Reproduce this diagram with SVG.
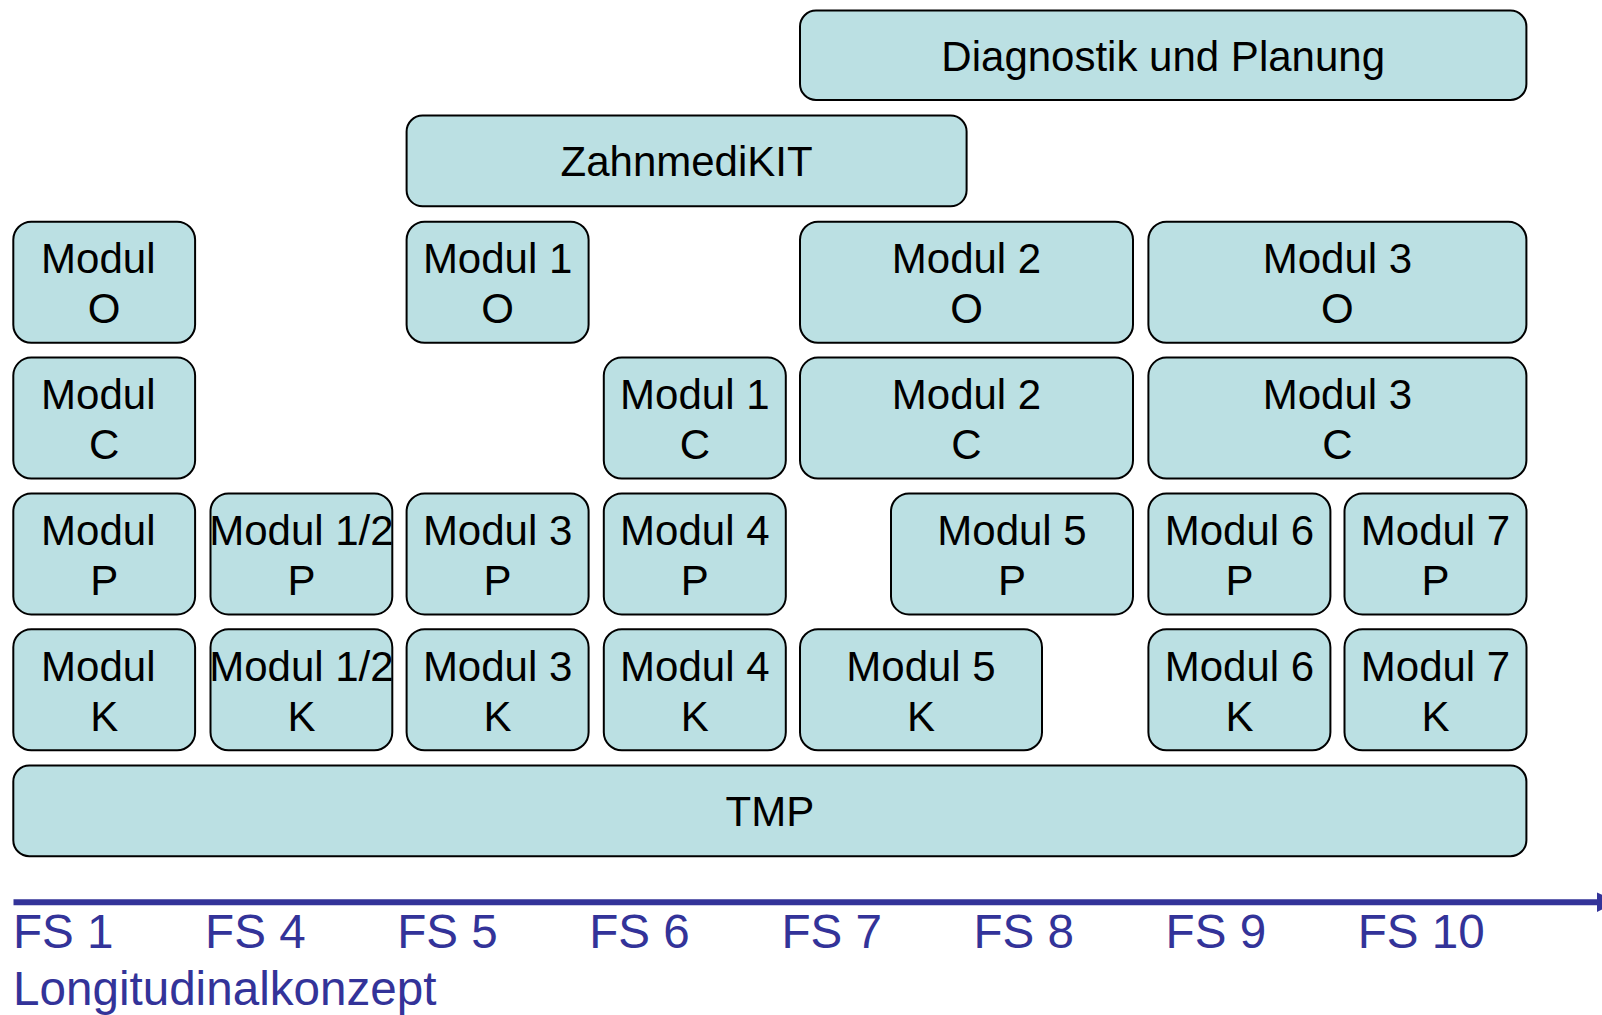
<svg xmlns="http://www.w3.org/2000/svg" width="1602" height="1015" viewBox="0 0 1602 1015">
<style>
.box{fill:#bbe0e3;stroke:#000;stroke-width:2}
.t{font-family:"Liberation Sans",Arial,Helvetica,sans-serif;font-size:42px;fill:#000;text-anchor:middle}
.ax{font-family:"Liberation Sans",Arial,Helvetica,sans-serif;font-size:47.6px;fill:#333399}
</style>
<rect width="1602" height="1015" fill="#fff"/>
<g id="diagnostik"><rect class="box" x="800" y="10.5" width="726.4" height="89.5" rx="16"/><text class="t" x="1163.2" y="70.5">Diagnostik und Planung</text></g>
<g id="zahnmedikit"><rect class="box" x="406.6" y="115.5" width="560" height="90.8" rx="16"/><text class="t" x="686.6" y="176">ZahnmediKIT</text></g>

<g id="modul-o"><rect class="box" x="13.3" y="221.7" width="181.8" height="121" rx="18"/><text class="t" x="98.3" y="273.2">Modul</text><text class="t" x="104.2" y="323.2">O</text></g>
<g id="modul1-o"><rect class="box" x="406.6" y="221.7" width="182" height="121" rx="18"/><text class="t" x="497.6" y="273.2">Modul 1</text><text class="t" x="497.6" y="323.2">O</text></g>
<g id="modul2-o"><rect class="box" x="800" y="221.7" width="333" height="121" rx="18"/><text class="t" x="966.5" y="273.2">Modul 2</text><text class="t" x="966.5" y="323.2">O</text></g>
<g id="modul3-o"><rect class="box" x="1148.4" y="221.7" width="378" height="121" rx="18"/><text class="t" x="1337.4" y="273.2">Modul 3</text><text class="t" x="1337.4" y="323.2">O</text></g>

<g id="modul-c"><rect class="box" x="13.3" y="357.6" width="181.8" height="121" rx="18"/><text class="t" x="98.3" y="409.1">Modul</text><text class="t" x="104.2" y="459.1">C</text></g>
<g id="modul1-c"><rect class="box" x="603.8" y="357.6" width="182" height="121" rx="18"/><text class="t" x="694.8" y="409.1">Modul 1</text><text class="t" x="694.8" y="459.1">C</text></g>
<g id="modul2-c"><rect class="box" x="800" y="357.6" width="333" height="121" rx="18"/><text class="t" x="966.5" y="409.1">Modul 2</text><text class="t" x="966.5" y="459.1">C</text></g>
<g id="modul3-c"><rect class="box" x="1148.4" y="357.6" width="378" height="121" rx="18"/><text class="t" x="1337.4" y="409.1">Modul 3</text><text class="t" x="1337.4" y="459.1">C</text></g>

<g id="modul-p"><rect class="box" x="13.3" y="493.4" width="181.8" height="121" rx="18"/><text class="t" x="98.3" y="544.9">Modul</text><text class="t" x="104.2" y="594.9">P</text></g>
<g id="modul12-p"><rect class="box" x="210.5" y="493.4" width="181.8" height="121" rx="18"/><text class="t" x="301.4" y="544.9">Modul 1/2</text><text class="t" x="301.4" y="594.9">P</text></g>
<g id="modul3-p"><rect class="box" x="406.6" y="493.4" width="182" height="121" rx="18"/><text class="t" x="497.6" y="544.9">Modul 3</text><text class="t" x="497.6" y="594.9">P</text></g>
<g id="modul4-p"><rect class="box" x="603.8" y="493.4" width="182" height="121" rx="18"/><text class="t" x="694.8" y="544.9">Modul 4</text><text class="t" x="694.8" y="594.9">P</text></g>
<g id="modul5-p"><rect class="box" x="891" y="493.4" width="242" height="121" rx="18"/><text class="t" x="1012" y="544.9">Modul 5</text><text class="t" x="1012" y="594.9">P</text></g>
<g id="modul6-p"><rect class="box" x="1148.4" y="493.4" width="182" height="121" rx="18"/><text class="t" x="1239.4" y="544.9">Modul 6</text><text class="t" x="1239.4" y="594.9">P</text></g>
<g id="modul7-p"><rect class="box" x="1344.5" y="493.4" width="182" height="121" rx="18"/><text class="t" x="1435.5" y="544.9">Modul 7</text><text class="t" x="1435.5" y="594.9">P</text></g>

<g id="modul-k"><rect class="box" x="13.3" y="629.3" width="181.8" height="121" rx="18"/><text class="t" x="98.3" y="680.8">Modul</text><text class="t" x="104.2" y="730.8">K</text></g>
<g id="modul12-k"><rect class="box" x="210.5" y="629.3" width="181.8" height="121" rx="18"/><text class="t" x="301.4" y="680.8">Modul 1/2</text><text class="t" x="301.4" y="730.8">K</text></g>
<g id="modul3-k"><rect class="box" x="406.6" y="629.3" width="182" height="121" rx="18"/><text class="t" x="497.6" y="680.8">Modul 3</text><text class="t" x="497.6" y="730.8">K</text></g>
<g id="modul4-k"><rect class="box" x="603.8" y="629.3" width="182" height="121" rx="18"/><text class="t" x="694.8" y="680.8">Modul 4</text><text class="t" x="694.8" y="730.8">K</text></g>
<g id="modul5-k"><rect class="box" x="800" y="629.3" width="242" height="121" rx="18"/><text class="t" x="921" y="680.8">Modul 5</text><text class="t" x="921" y="730.8">K</text></g>
<g id="modul6-k"><rect class="box" x="1148.4" y="629.3" width="182" height="121" rx="18"/><text class="t" x="1239.4" y="680.8">Modul 6</text><text class="t" x="1239.4" y="730.8">K</text></g>
<g id="modul7-k"><rect class="box" x="1344.5" y="629.3" width="182" height="121" rx="18"/><text class="t" x="1435.5" y="680.8">Modul 7</text><text class="t" x="1435.5" y="730.8">K</text></g>

<g id="tmp"><rect class="box" x="13.3" y="765.5" width="1513.1" height="90.7" rx="16"/><text class="t" x="769.9" y="825.8">TMP</text></g>

<g id="connectors">
<line x1="13.5" y1="902.2" x2="1599" y2="902.2" stroke="#333399" stroke-width="6"/>
<polygon points="1597,892.5 1618,902.2 1597,911.9" fill="#333399"/>
</g>

<g id="axis-labels">
<text class="ax" x="13" y="948">FS 1</text>
<text class="ax" x="205.1" y="948">FS 4</text>
<text class="ax" x="397.2" y="948">FS 5</text>
<text class="ax" x="589.3" y="948">FS 6</text>
<text class="ax" x="781.4" y="948">FS 7</text>
<text class="ax" x="973.5" y="948">FS 8</text>
<text class="ax" x="1165.6" y="948">FS 9</text>
<text class="ax" x="1357.7" y="948">FS 10</text>
<text class="ax" x="13" y="1005">Longitudinalkonzept</text>
</g>
</svg>
